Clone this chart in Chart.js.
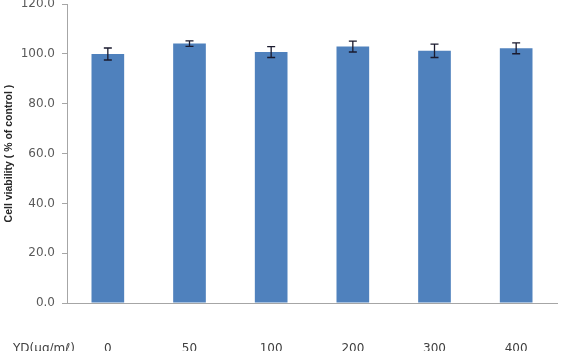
<!DOCTYPE html>
<html>
<head>
<meta charset="utf-8">
<script src="https://cdn.jsdelivr.net/npm/chart.js@4"></script>
<style>
  html, body { margin: 0; padding: 0; background: #fff; overflow: hidden; width: 564px; height: 351px; }
  #wrap { position: absolute; left: 0; top: -10px; width: 564px; height: 370px; }
</style>
</head>
<body>
<div id="wrap"><canvas id="c" width="564" height="370"></canvas></div>
<script>
const categories = ["0", "50", "100", "200", "300", "400"];
const viability = [100.0, 104.2, 100.8, 103.0, 101.3, 102.3];
const errors = [2.4, 1.1, 2.2, 2.2, 2.7, 2.2];
const yTicks = [0, 20, 40, 60, 80, 100, 120];
const xAxisLabel = "YD(μg/mℓ)";
const yAxisLabel = "Cell viability ( % of control )";

const X_TICK_PAD = 39;

const errorBarPlugin = {
  id: 'errorBars',
  afterDatasetsDraw(chart) {
    const ctx = chart.ctx;
    const meta = chart.getDatasetMeta(0);
    const ys = chart.scales.y;
    ctx.save();
    ctx.strokeStyle = '#1a1a2e';
    ctx.lineWidth = 1.3;
    meta.data.forEach((bar, i) => {
      const x = bar.x;
      const yTop = ys.getPixelForValue(viability[i] + errors[i]);
      const yBot = ys.getPixelForValue(viability[i] - errors[i]);
      ctx.beginPath();
      ctx.moveTo(x, yTop); ctx.lineTo(x, yBot);
      ctx.moveTo(x - 4, yTop); ctx.lineTo(x + 4, yTop);
      ctx.moveTo(x - 4, yBot); ctx.lineTo(x + 4, yBot);
      ctx.stroke();
    });
    ctx.restore();
  }
};

const xLabelPlugin = {
  id: 'xLabel',
  afterDraw(chart) {
    const ctx = chart.ctx;
    ctx.save();
    ctx.font = '12px "DejaVu Sans"';
    ctx.fillStyle = '#404040';
    ctx.textAlign = 'left';
    ctx.textBaseline = 'middle';
    const tickY = chart.chartArea.bottom + X_TICK_PAD + 7.2;
    ctx.fillText(xAxisLabel, 13, tickY);
    ctx.restore();
  }
};

new Chart(document.getElementById('c'), {
  type: 'bar',
  data: {
    labels: categories,
    datasets: [{
      data: viability,
      backgroundColor: '#4f81bd',
      borderWidth: 0,
      barPercentage: 0.8,
      categoryPercentage: 0.5
    }]
  },
  options: {
    responsive: false,
    animation: false,
    devicePixelRatio: 1,
    layout: { padding: { left: 0, right: 7, top: 1, bottom: 0 } },
    plugins: { legend: { display: false }, tooltip: { enabled: false } },
    scales: {
      x: {
        grid: { display: false, drawTicks: false },
        border: { color: '#a6a6a6', width: 1 },
        ticks: { padding: X_TICK_PAD, color: '#404040', font: { family: 'DejaVu Sans', size: 12 }, maxRotation: 0 },
        afterFit(s) { s.height = 57; s.paddingRight = 0; s.paddingLeft = 0; }
      },
      y: {
        min: 0, max: 120,
        afterBuildTicks(s) { s.ticks = yTicks.map(v => ({ value: v })); },
        ticks: {
          color: '#595959', padding: 7,
          font: { family: 'DejaVu Sans', size: 12 },
          callback: v => Number(v).toFixed(1)
        },
        grid: { drawOnChartArea: false, tickLength: 5, color: '#a6a6a6' },
        border: { color: '#a6a6a6', width: 1 },
        title: {
          display: true, text: yAxisLabel, color: '#262626',
          font: { family: 'Liberation Sans', size: 10.5, weight: 'bold' },
          padding: { top: 3, bottom: 0 }
        },
        afterFit(s) { s.width = 67; }
      }
    }
  },
  plugins: [errorBarPlugin, xLabelPlugin]
});
</script>
</body>
</html>
